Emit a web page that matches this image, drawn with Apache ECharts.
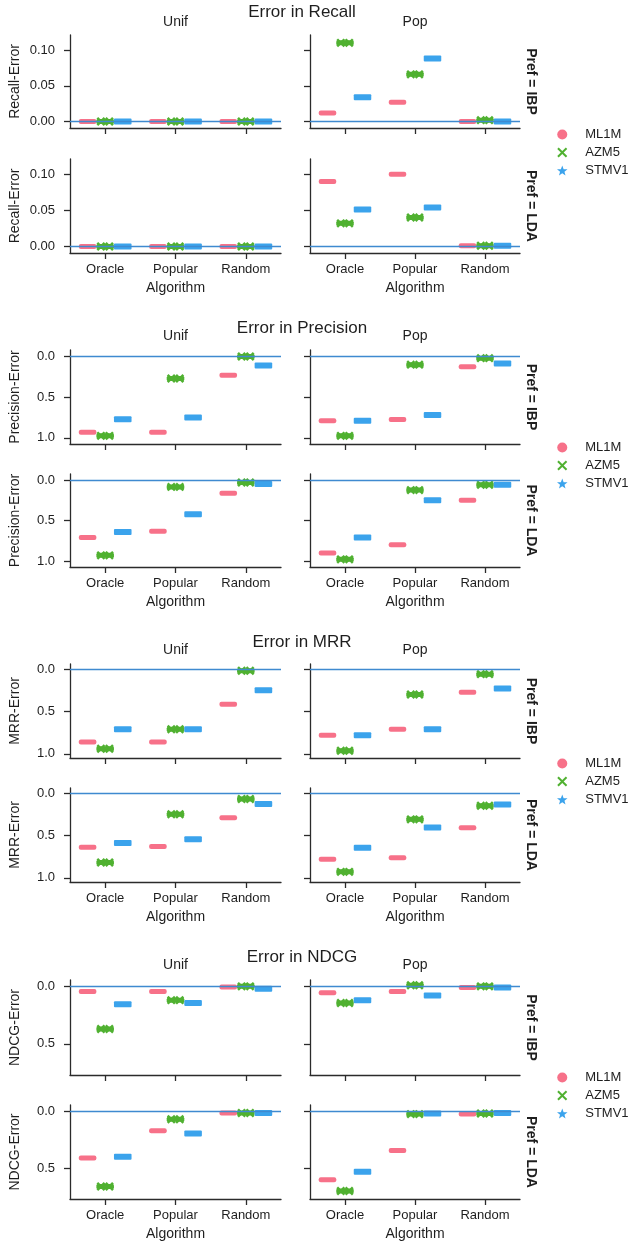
<!DOCTYPE html>
<html><head><meta charset="utf-8">
<script src="https://cdn.jsdelivr.net/npm/echarts@6/dist/echarts.min.js"></script>
<style>html,body{margin:0;padding:0;background:#fff}#chart{width:628px;height:1243px}</style>
</head><body><div id="chart"></div>
<script>
const algorithms = ['Oracle', 'Popular', 'Random'];
const datasets = ['ML1M', 'AZM5', 'STMV1'];
const colTitles = ['Unif', 'Pop'];
const rowTitles = ['Pref = IBP', 'Pref = LDA'];
const xAxisName = 'Algorithm';

// each facet: one row per dataset (ML1M, AZM5, STMV1), one value per algorithm
const recallIbpUnif = [[0.000, 0.000, 0.000], [0.000, 0.000, 0.000], [0.000, 0.000, 0.000]];
const recallIbpPop  = [[0.012, 0.027, 0.000], [0.110, 0.066, 0.002], [0.034, 0.088, 0.000]];
const recallLdaUnif = [[0.000, 0.000, 0.000], [0.000, 0.000, 0.000], [0.000, 0.000, 0.000]];
const recallLdaPop  = [[0.090, 0.100, 0.001], [0.032, 0.040, 0.001], [0.051, 0.054, 0.001]];

const precisionIbpUnif = [[0.93, 0.93, 0.23], [0.975, 0.27, 0.00], [0.77, 0.75, 0.11]];
const precisionIbpPop  = [[0.79, 0.775, 0.125], [0.975, 0.10, 0.02], [0.79, 0.72, 0.085]];
const precisionLdaUnif = [[0.71, 0.63, 0.16], [0.93, 0.08, 0.025], [0.64, 0.42, 0.045]];
const precisionLdaPop  = [[0.90, 0.80, 0.245], [0.98, 0.12, 0.055], [0.71, 0.245, 0.055]];

const mrrIbpUnif = [[0.86, 0.86, 0.415], [0.94, 0.71, 0.02], [0.71, 0.71, 0.25]];
const mrrIbpPop  = [[0.78, 0.71, 0.275], [0.965, 0.30, 0.06], [0.78, 0.71, 0.23]];
const mrrLdaUnif = [[0.64, 0.63, 0.29], [0.82, 0.25, 0.07], [0.59, 0.545, 0.13]];
const mrrLdaPop  = [[0.78, 0.765, 0.41], [0.93, 0.31, 0.15], [0.645, 0.405, 0.135]];

const ndcgIbpUnif = [[0.045, 0.045, 0.005], [0.37, 0.12, 0.00], [0.155, 0.145, 0.02]];
const ndcgIbpPop  = [[0.055, 0.045, 0.01], [0.145, -0.01, 0.00], [0.12, 0.08, 0.01]];
const ndcgLdaUnif = [[0.41, 0.17, 0.015], [0.66, 0.07, 0.015], [0.40, 0.195, 0.015]];
const ndcgLdaPop  = [[0.60, 0.345, 0.025], [0.70, 0.025, 0.02], [0.53, 0.02, 0.015]];

const recallTicks = [0, 0.05, 0.10];
const precisionTicks = [0, 0.5, 1.0];
const mrrTicks = [0, 0.5, 1.0];
const ndcgTicks = [0, 0.5];

// ---------- layout / style ----------
const FONT = 'Liberation Sans, Arial, Helvetica, sans-serif';
const TXT = '#1e1e1e';
const AX = '#2b2b2b';
const colors = ['#f77189', '#50b131', '#3ba3ec'];
const zeroColor = '#3f8ad0';
const xPath = 'path://M1.4,0 L5,3.6 L8.6,0 L10,1.4 L6.4,5 L10,8.6 L8.6,10 L5,6.4 L1.4,10 L0,8.6 L3.6,5 L0,1.4 Z';
const starPath = 'path://M5,0 L6.234,3.301 L9.755,3.455 L6.997,5.649 L7.939,9.045 L5,7.1 L2.061,9.045 L3.003,5.649 L0.245,3.455 L3.766,3.301 Z';

const colLeft = [70, 310];
const colWidth = [211, 210];

const panels = [
  { title: 'Error in Recall', yName: 'Recall-Error', facets: [[recallIbpUnif, recallIbpPop], [recallLdaUnif, recallLdaPop]],
    ticks: recallTicks, dec: 2, inverse: false, min: -0.009, max: 0.121,
    titleY: 12, colY: 22, rows: [[35, 93], [159, 94]], legendTop: 123 },
  { title: 'Error in Precision', yName: 'Precision-Error', facets: [[precisionIbpUnif, precisionIbpPop], [precisionLdaUnif, precisionLdaPop]],
    ticks: precisionTicks, dec: 1, inverse: true, min: -0.08, max: 1.075,
    titleY: 328, colY: 336, rows: [[350, 94], [474, 93]], legendTop: 436 },
  { title: 'Error in MRR', yName: 'MRR-Error', facets: [[mrrIbpUnif, mrrIbpPop], [mrrLdaUnif, mrrLdaPop]],
    ticks: mrrTicks, dec: 1, inverse: true, min: -0.06, max: 1.05,
    titleY: 642, colY: 650, rows: [[664, 94], [788, 94]], legendTop: 752 },
  { title: 'Error in NDCG', yName: 'NDCG-Error', facets: [[ndcgIbpUnif, ndcgIbpPop], [ndcgLdaUnif, ndcgLdaPop]],
    ticks: ndcgTicks, dec: 1, inverse: true, min: -0.055, max: 0.77,
    titleY: 957, colY: 965, rows: [[980, 95], [1105, 94]], legendTop: 1066 }
];

function makeRender(k) {
  return function (params, api) {
    const pt = api.coord([api.value(0), api.value(1)]);
    const band = api.size([1, 0])[0];
    const slot = band * 0.75 / 3;
    const cx = pt[0] + (k - 1) * slot;
    const y = pt[1];
    const color = colors[k];
    if (k === 0) {
      return { type: 'rect', shape: { x: cx - slot / 2, y: y - 2.5, width: slot, height: 5, r: 2 }, style: { fill: color } };
    }
    if (k === 2) {
      return { type: 'rect', shape: { x: cx - slot / 2, y: y - 3, width: slot, height: 6, r: 1 }, style: { fill: color } };
    }
    const children = [{ type: 'rect', shape: { x: cx - slot / 2, y: y - 2.5, width: slot, height: 5, r: 1.5 }, style: { fill: color } }];
    [-0.24, 0.24].forEach(f => {
      const xx = cx + f * slot, s = 3.6;
      children.push({ type: 'line', shape: { x1: xx - s, y1: y - s, x2: xx + s, y2: y + s }, style: { stroke: color, lineWidth: 2.4 } });
      children.push({ type: 'line', shape: { x1: xx - s, y1: y + s, x2: xx + s, y2: y - s }, style: { stroke: color, lineWidth: 2.4 } });
    });
    return { type: 'group', children };
  };
}

const grid = [], xAxis = [], yAxis = [], series = [], legend = [], graphic = [];
let gi = 0;
panels.forEach(p => {
  graphic.push({ type: 'text', x: 302, y: p.titleY, style: { text: p.title, fontSize: 17, fontFamily: FONT, fill: TXT, align: 'center', verticalAlign: 'middle', textAlign: 'center', textVerticalAlign: 'middle' } });
  colTitles.forEach((t, c) => {
    graphic.push({ type: 'text', x: colLeft[c] + colWidth[c] / 2, y: p.colY, style: { text: t, fontSize: 14, fontFamily: FONT, fill: TXT, align: 'center', verticalAlign: 'middle', textAlign: 'center', textVerticalAlign: 'middle' } });
  });
  p.rows.forEach((rw, r) => {
    graphic.push({ type: 'text', x: 531, y: rw[0] + rw[1] / 2, rotation: -Math.PI / 2, style: { text: rowTitles[r], fontSize: 14, fontWeight: 'bold', fontFamily: FONT, fill: TXT, align: 'center', verticalAlign: 'middle', textAlign: 'center', textVerticalAlign: 'middle' } });
    [0, 1].forEach(c => {
      grid.push({ left: colLeft[c], top: rw[0], width: colWidth[c], height: rw[1] });
      xAxis.push({
        gridIndex: gi, type: 'category', data: algorithms,
        axisLine: { show: true, onZero: false, lineStyle: { color: AX, width: 1.3 } },
        axisTick: { show: true, alignWithLabel: true, length: 6, lineStyle: { color: AX, width: 1.3 } },
        axisLabel: { show: r === 1, margin: 10, fontSize: 13, color: TXT, fontFamily: FONT },
        name: r === 1 ? xAxisName : '', nameLocation: 'middle', nameGap: 28,
        nameTextStyle: { fontSize: 14, color: TXT, fontFamily: FONT },
        splitLine: { show: false }
      });
      yAxis.push({
        gridIndex: gi, type: 'value', min: p.min, max: p.max, inverse: p.inverse,
        axisLine: { show: true, onZero: false, lineStyle: { color: AX, width: 1.3 } },
        axisTick: { show: true, length: 6, customValues: p.ticks, lineStyle: { color: AX, width: 1.3 } },
        axisLabel: { show: c === 0, customValues: p.ticks, margin: 15, fontSize: 13, color: TXT, fontFamily: FONT,
                     formatter: v => Number(v).toFixed(p.dec) },
        splitLine: { show: false },
        name: c === 0 ? p.yName : '', nameLocation: 'middle', nameGap: 48, nameRotate: 90,
        nameTextStyle: { fontSize: 14, color: TXT, fontFamily: FONT }
      });
      const vals = p.facets[r][c];
      datasets.forEach((ds, k) => {
        series.push({
          type: 'custom', name: ds, xAxisIndex: gi, yAxisIndex: gi,
          itemStyle: { color: colors[k] },
          encode: { x: 0, y: 1 },
          data: vals[k].map((v, i) => [i, v]),
          renderItem: makeRender(k), z: 2, silent: true
        });
      });
      series.push({
        type: 'line', name: 'zero', xAxisIndex: gi, yAxisIndex: gi, data: [], z: 5,
        markLine: { silent: true, symbol: 'none', label: { show: false }, animation: false,
                    lineStyle: { color: zeroColor, width: 1.4, type: 'solid' }, data: [{ yAxis: 0 }] }
      });
      gi++;
    });
  });
  legend.push({
    orient: 'vertical', left: 552, top: p.legendTop, itemWidth: 36, itemHeight: 10, itemGap: 5,
    selectedMode: false, symbolKeepAspect: true,
    data: [{ name: 'ML1M', icon: 'circle' }, { name: 'AZM5', icon: xPath }, { name: 'STMV1', icon: starPath }],
    textStyle: { fontSize: 13, color: TXT, fontFamily: FONT }
  });
});

const chart = echarts.init(document.getElementById('chart'), null, { renderer: 'canvas' });
chart.setOption({
  backgroundColor: '#ffffff',
  animation: false,
  textStyle: { fontFamily: FONT },
  grid, xAxis, yAxis, series, legend, graphic
});
</script></body></html>
